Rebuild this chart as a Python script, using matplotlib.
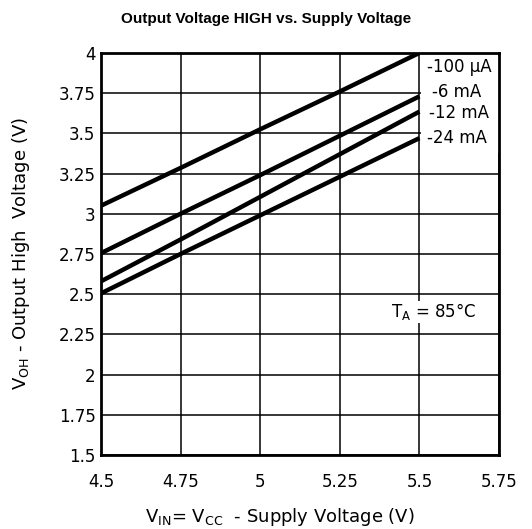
import matplotlib
matplotlib.use("Agg")
import matplotlib.pyplot as plt
from matplotlib.patches import Rectangle

# supply voltage (V) and output-high voltage (V) per load current
vcc = [4.5, 4.75, 5.0, 5.25, 5.5]
voh_100ua = [3.05, 3.285, 3.525, 3.76, 4.0]
voh_6ma = [2.755, 3.0, 3.24, 3.485, 3.73]
voh_12ma = [2.58, 2.84, 3.105, 3.37, 3.635]
voh_24ma = [2.505, 2.75, 2.99, 3.23, 3.47]

# label text, data, label anchor (x, y)
series = [("-100 \u03bcA", voh_100ua, 5.525, 3.91),
          ("-6 mA", voh_6ma, 5.54, 3.755),
          ("-12 mA", voh_12ma, 5.53, 3.625),
          ("-24 mA", voh_24ma, 5.525, 3.47)]

xticks = [4.5, 4.75, 5, 5.25, 5.5, 5.75]
yticks = [1.5, 1.75, 2, 2.25, 2.5, 2.75, 3, 3.25, 3.5, 3.75, 4]

plt.rcParams["font.family"] = ["DejaVu Sans"]

fig = plt.figure(figsize=(5.32, 5.29), dpi=100)
ax = fig.add_axes([0.19, 0.14, 0.748, 0.76])

# white area behind the curve labels (hides the grid there)
ax.add_patch(Rectangle((5.506, 3.38), 0.244, 0.6, facecolor="white",
                       edgecolor="none", zorder=1.8))

for label, ys, lx, ly in series:
    ax.plot(vcc, ys, color="black", lw=3.2, solid_capstyle="butt", zorder=3)
    ax.text(lx, ly, label, fontsize=12, ha="left", va="center", zorder=4)

ax.text(5.41, 2.39, "T$_\\mathrm{A}$ = 85\u00b0C", fontsize=12, ha="left",
        va="center", zorder=4,
        bbox=dict(facecolor="white", edgecolor="none", pad=0.3))

ax.set_xlim(4.5, 5.75)
ax.set_ylim(1.5, 4)
ax.set_xticks(xticks)
ax.set_xticklabels([f"{t:g}" for t in xticks])
ax.set_yticks(yticks)
ax.set_yticklabels([f"{t:g}" for t in yticks])
ax.tick_params(length=0, labelsize=12)
ax.tick_params(axis="x", pad=13)
ax.tick_params(axis="y", pad=4)
ax.grid(True, color="black", lw=1.1)
for s in ax.spines.values():
    s.set_linewidth(2)

ax.set_xlabel("V$_\\mathrm{IN}$= V$_\\mathrm{CC}$  - Supply Voltage (V)",
              fontsize=13)
ax.xaxis.set_label_coords(0.45, -0.127)
ax.set_ylabel("V$_\\mathrm{OH}$ - Output High  Voltage (V)", fontsize=13)
ax.yaxis.set_label_coords(-0.173, 0.5)
fig.text(0.5, 0.965, "Output Voltage HIGH vs. Supply Voltage", ha="center",
         va="center", fontsize=11, fontweight="bold",
         family="Liberation Sans")

fig.savefig("out.png", dpi=100)
